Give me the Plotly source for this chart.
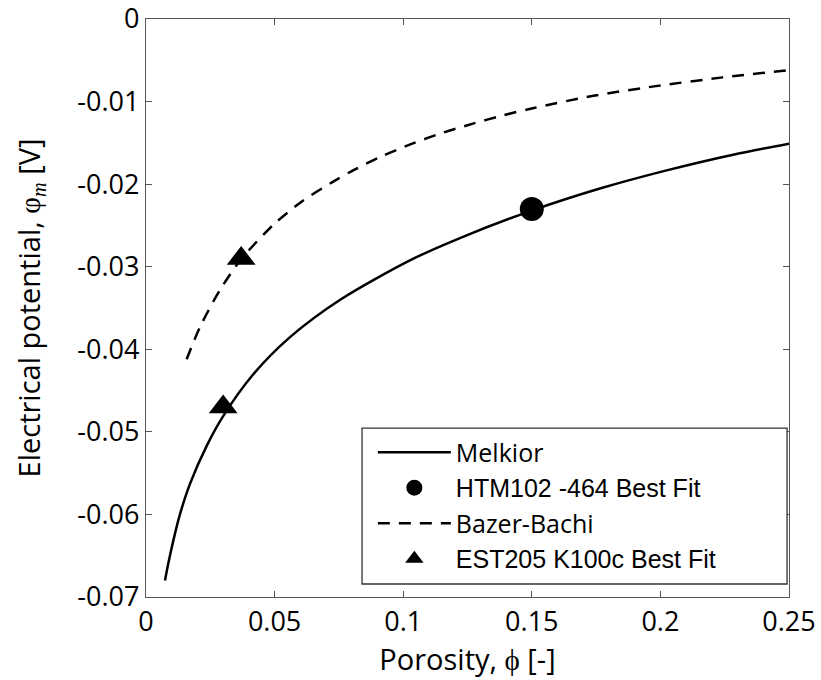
import plotly.graph_objects as go

# Melkior model curve
melkior_phi = [0.0074, 0.0085, 0.0106, 0.013, 0.0171, 0.0236, 0.030, 0.0418, 0.0561, 0.0755,
               0.1028, 0.1223, 0.150, 0.1768, 0.2028, 0.2287, 0.250]
melkior_pot = [-0.0680, -0.0662, -0.0632, -0.0602, -0.0563, -0.0517, -0.0481, -0.0430, -0.0385, -0.0340,
               -0.0292, -0.0265, -0.0232, -0.0205, -0.0183, -0.0164, -0.0151]

# Bazer-Bachi model curve
bazer_phi = [0.0158, 0.021, 0.0288, 0.037, 0.0496, 0.0606, 0.0728, 0.0807, 0.0918,
             0.1035, 0.1151, 0.1268, 0.1385, 0.1504, 0.174, 0.1989, 0.2235, 0.250]
bazer_pot = [-0.0412, -0.0373, -0.0328, -0.0291, -0.0249, -0.0221, -0.0197, -0.0183, -0.0166,
             -0.0151, -0.0138, -0.0127, -0.0117, -0.0108, -0.0093, -0.0081, -0.0071, -0.0062]

# Best fit points
htm_phi = [0.15]
htm_pot = [-0.023]
est_phi = [0.030, 0.037]
est_pot = [-0.047, -0.029]

x_ticks = [0, 0.05, 0.1, 0.15, 0.2, 0.25]
x_ticklabels = ["0", "0.05", "0.1", "0.15", "0.2", "0.25"]
y_ticks = [0, -0.01, -0.02, -0.03, -0.04, -0.05, -0.06, -0.07]
y_ticklabels = ["0", "-0.01", "-0.02", "-0.03", "-0.04", "-0.05", "-0.06", "-0.07"]

arial = '<span style="font-family:Liberation Sans">%s</span>'

fig = go.Figure()
fig.add_trace(go.Scatter(x=melkior_phi, y=melkior_pot, mode="lines", name="Melkior",
                         line=dict(color="black", width=2.5, shape="spline", smoothing=0.8)))
fig.add_trace(go.Scatter(x=htm_phi, y=htm_pot, mode="markers", name=arial % "HTM102 -464 Best Fit",
                         marker=dict(symbol="circle", size=24, color="black")))
fig.add_trace(go.Scatter(x=bazer_phi, y=bazer_pot, mode="lines", name="Bazer-Bachi",
                         line=dict(color="black", width=2.5, dash="12px,9px", shape="spline", smoothing=0.8)))
fig.add_trace(go.Scatter(x=est_phi, y=est_pot, mode="markers", name=arial % "EST205 K100c Best Fit",
                         marker=dict(symbol="triangle-up", size=25, color="black")))

axis_common = dict(showgrid=False, zeroline=False, showline=True, linecolor="#555555", linewidth=1.3,
                   mirror="ticks", ticks="inside", ticklen=6, tickcolor="#555555", tickwidth=1.2,
                   automargin=False, ticklabeloverflow="allow",
                   tickfont=dict(family="Open Sans", size=27, color="black"))

fig.update_xaxes(range=[0, 0.25], tickvals=x_ticks, ticktext=x_ticklabels,
                 title=dict(text="Porosity, ϕ [-]", font=dict(family="Open Sans", size=29, color="black"),
                            standoff=6),
                 **axis_common)
fig.update_yaxes(range=[-0.07, 0], tickvals=y_ticks, ticktext=y_ticklabels,
                 title=dict(text="Electrical potential, <span style='font-family:Liberation Serif'>φ<sub><i>m</i></sub></span> [V]",
                            font=dict(family="Open Sans", size=29, color="black"), standoff=28),
                 **axis_common)

# legend frame (white box with dark border), legend drawn on top of it
fig.add_shape(type="rect", xref="paper", yref="paper", x0=0.336, x1=0.997, y0=0.0225, y1=0.292,
              line=dict(color="#333333", width=1.3), fillcolor="white", layer="above")

fig.update_layout(
    width=821, height=680,
    margin=dict(l=146, r=32, t=19, b=83),
    paper_bgcolor="white", plot_bgcolor="white",
    showlegend=True,
    legend=dict(x=0.3528, y=0.29, xanchor="left", yanchor="top",
                bgcolor="rgba(0,0,0,0)", borderwidth=0,
                font=dict(family="Open Sans", size=25, color="black"),
                itemwidth=73, tracegroupgap=0),
)

fig.write_html("out.html", config={"displayModeBar": False},
               post_script="document.body.style.margin='0px';")
